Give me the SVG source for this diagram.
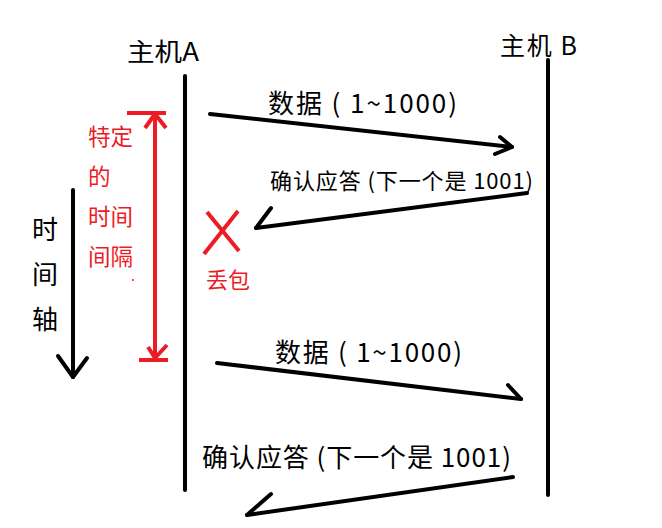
<svg xmlns="http://www.w3.org/2000/svg" width="662" height="528" viewBox="0 0 662 528">
<style>
text{font-family:"Noto Sans CJK SC","Noto Sans",sans-serif;}
.blk{fill:#000;}
.red{fill:#ed1c24;}
.ln{stroke:#000;stroke-width:4;stroke-linecap:round;fill:none;stroke-linejoin:round;}
.rl{stroke:#ed1c24;stroke-width:4;fill:none;stroke-linecap:butt;stroke-linejoin:round;}
</style>
<rect width="662" height="528" fill="#fff"/>
<g id="hostA">
<text class="blk" x="127" y="61" font-size="25" textLength="72" lengthAdjust="spacingAndGlyphs">主机A</text>
<line class="ln" x1="185" y1="76" x2="185" y2="490" stroke-linecap="butt" stroke-width="5"/>
</g>
<g id="hostB">
<text class="blk" x="500" y="55" font-size="25" textLength="77" lengthAdjust="spacing">主机 B</text>
<line class="ln" x1="548" y1="60" x2="548" y2="495" stroke-linecap="butt" stroke-width="5"/>
</g>
<g id="timeaxis">
<line class="ln" x1="73" y1="190" x2="73" y2="377"/>
<polyline class="ln" points="58,356 73,377 87,358"/>
<text class="blk" font-size="26" x="32" y="239">时</text>
<text class="blk" font-size="26" x="32" y="284">间</text>
<text class="blk" font-size="26" x="32" y="329">轴</text>
</g>
<g id="interval">
<line class="rl" x1="127" y1="113" x2="166" y2="113"/>
<line class="rl" x1="155" y1="113" x2="155" y2="360"/>
<line class="rl" x1="139" y1="360" x2="168" y2="360"/>
<polyline class="rl" points="145,128 155,114 166,128"/>
<polyline class="rl" points="148,347 155,358 167,345"/>
<text class="red" font-size="22.5" x="88" y="145">特定</text>
<text class="red" font-size="22.5" x="88" y="185">的</text>
<text class="red" font-size="22.5" x="88" y="225">时间</text>
<text class="red" font-size="22.5" x="88" y="265">间隔</text>
<circle cx="133" cy="280" r="1" fill="#ed1c24"/>
</g>
<g id="lost">
<line class="rl" x1="207" y1="212" x2="239" y2="251" stroke-width="3.5"/>
<line class="rl" x1="238" y1="211" x2="204" y2="254" stroke-width="3.5"/>
<text class="red" font-size="22" x="206" y="288">丢包</text>
</g>
<g id="labels">
<text class="blk" font-size="26" x="268" y="113" textLength="189" lengthAdjust="spacing">数据 ( 1~1000)</text>
<text class="blk" font-size="22" x="270" y="189" textLength="263" lengthAdjust="spacing">确认应答 (下一个是 1001)</text>
<text class="blk" font-size="26" x="275" y="362" textLength="187" lengthAdjust="spacing">数据 ( 1~1000)</text>
<text class="blk" font-size="26" x="202" y="467" textLength="309" lengthAdjust="spacing">确认应答 (下一个是 1001)</text>
</g>
<g id="connectors">
<line class="ln" x1="210" y1="114" x2="512" y2="147"/>
<polyline class="ln" points="500,137 512,147 495,154"/>
<line class="ln" x1="527" y1="193" x2="256" y2="228"/>
<polyline class="ln" points="271,208 256,228"/>
<line class="ln" x1="217" y1="363" x2="521" y2="399"/>
<polyline class="ln" points="508,385 521,399"/>
<line class="ln" x1="513" y1="477" x2="247" y2="515"/>
<polyline class="ln" points="271,494 247,515"/>
</g>
</svg>
